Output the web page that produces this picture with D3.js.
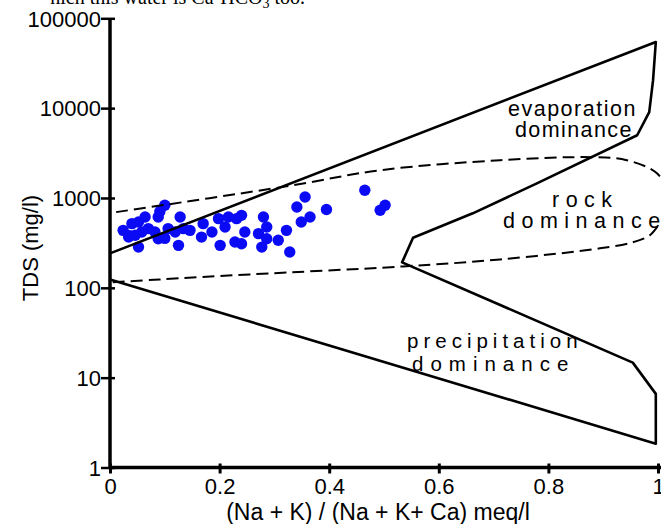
<!DOCTYPE html>
<html>
<head>
<meta charset="utf-8">
<script src="https://cdn.jsdelivr.net/npm/d3@7"></script>
<style>
  html, body { margin: 0; padding: 0; background: #fff; }
  svg { display: block; }
  text { font-family: "Liberation Sans", Arial, sans-serif; fill: #000; }
</style>
</head>
<body>
<svg id="chart" width="661" height="524"></svg>
<script>
// ---- data ----
const xTicks = [0, 0.2, 0.4, 0.6, 0.8, 1];
const xTickLabels = ["0", "0.2", "0.4", "0.6", "0.8", "1"];
const yTicks = [1, 10, 100, 1000, 10000, 100000];
const yTickLabels = ["1", "10", "100", "1000", "10000", "100000"];

// sample points: (Na+K)/(Na+K+Ca) and TDS (mg/l)
const ratio = [0.100, 0.088, 0.064, 0.128, 0.024, 0.040, 0.052, 0.046, 0.034, 0.058,
               0.070, 0.082, 0.088, 0.052, 0.106, 0.119, 0.134, 0.146, 0.125, 0.100,
               0.091, 0.036,
               0.170, 0.167, 0.186, 0.201, 0.198, 0.210, 0.216, 0.240, 0.231, 0.228,
               0.240, 0.246, 0.280, 0.286, 0.271, 0.286, 0.277, 0.307, 0.322, 0.328,
               0.356, 0.341, 0.395, 0.365, 0.349, 0.465, 0.493, 0.502];
const tds   = [829, 614, 614, 614, 436, 518, 540, 384, 367, 418,
               456, 418, 352, 284, 456, 418, 456, 436, 297, 355,
               707, 380,
               518, 367, 418, 297, 589, 475, 614, 641, 589, 323,
               310, 418, 614, 475, 401, 352, 284, 338, 436, 250,
               1026, 794, 743, 614, 540, 1218, 729, 829];

// Gibbs boundary (solid)
const boundaryX = [0, 0.996, 0.991, 0.984, 0.962, 0.779, 0.662, 0.553, 0.533, 0.954, 0.996, 0.996, 0];
const boundaryY = [242, 54500, 20500, 9020, 4990, 1452, 675, 361, 192, 14.7, 6.6, 1.84, 124];

// rock dominance envelope (dashed)
const envelopeX = [0.005, 0.091, 0.255, 0.535, 0.712, 0.894, 0.954, 0.985, 1.005, 1.018, 1.026, 1.018, 0.998, 0.943, 0.881, 0.712, 0.493, 0.328, 0];
const envelopeY = [115, 124, 141, 173, 207, 275, 321, 384, 522, 564, 729, 1156, 1885, 2632, 2842, 2632, 2037, 1368, 680];

// ---- chart ----
const svg = d3.select("#chart");
const x = d3.scaleLinear().domain([0, 1]).range([110, 658]);
const y = d3.scaleLog().domain([1, 100000]).range([467.5, 18.3]);

// cut-off text from page above
svg.append("text")
  .attr("x", 305).attr("y", 3.5)
  .attr("text-anchor", "end")
  .style("font-family", "'Liberation Serif', 'Times New Roman', serif")
  .style("font-size", "20px")
  .html("hich this water is Ca-HCO<tspan dy='4' font-size='14'>3</tspan><tspan dy='-4'> too.</tspan>");

// points
svg.append("g").selectAll("circle")
  .data(ratio.map((r, i) => [r, tds[i]]))
  .join("circle")
  .attr("cx", d => x(d[0]))
  .attr("cy", d => y(d[1]))
  .attr("r", 5.7)
  .attr("fill", "#0a0af5");

// boundary
svg.append("path")
  .datum(boundaryX.map((v, i) => [v, boundaryY[i]]))
  .attr("d", d3.line().x(d => x(d[0])).y(d => y(d[1])))
  .attr("fill", "none").attr("stroke", "#000").attr("stroke-width", 2.6)
  .attr("stroke-linejoin", "round");

svg.append("path")
  .datum(envelopeX.map((v, i) => [v, envelopeY[i]]))
  .attr("d", d3.line().x(d => x(d[0])).y(d => y(d[1])).curve(d3.curveCatmullRom.alpha(0.5)))
  .attr("fill", "none").attr("stroke", "#000").attr("stroke-width", 2)
  .attr("stroke-dasharray", "12,6");

// axes
const gx = svg.append("g").attr("transform", `translate(0,${y(1)})`)
  .call(d3.axisBottom(x).tickValues(xTicks).tickFormat((d, i) => xTickLabels[i]).tickSize(6).tickPadding(0));
gx.select(".domain").attr("d", `M${x(0)},0H661`).attr("stroke", "#000").attr("stroke-width", 3.5);
gx.selectAll(".tick line").attr("y1", -4).attr("y2", 6).attr("stroke-width", 3);
gx.selectAll(".tick text").attr("y", 26).attr("dy", 0)
  .style("font-size", "22px").style("font-family", "'Liberation Sans', Arial, sans-serif");

const gy = svg.append("g").attr("transform", `translate(${x(0)},0)`)
  .call(d3.axisLeft(y).tickValues(yTicks).tickFormat((d, i) => yTickLabels[i]).tickSize(8).tickPadding(2));
gy.select(".domain").attr("d", `M0,${y(1) + 1.5}V${y(100000)}`).attr("stroke", "#000").attr("stroke-width", 3.5);
gy.selectAll(".tick line").attr("x1", 5).attr("x2", -9).attr("stroke-width", 2.5);
gy.selectAll(".tick text").attr("x", -9).attr("dy", "0.35em")
  .style("font-size", "22px").style("font-family", "'Liberation Sans', Arial, sans-serif");

// axis titles
svg.append("text")
  .attr("x", 378).attr("y", 520)
  .attr("text-anchor", "middle")
  .style("font-size", "23px")
  .text("(Na + K) / (Na + K+ Ca) meq/l");

svg.append("text")
  .attr("transform", "translate(38,248) rotate(-90)")
  .attr("text-anchor", "middle")
  .style("font-size", "22px")
  .text("TDS (mg/l)");

// region labels
function label(txt, lx, ly, fs, ls) {
  svg.append("text").attr("x", lx).attr("y", ly)
    .style("font-size", fs + "px").style("letter-spacing", ls + "px").text(txt);
}
label("evaporation", 508, 116, 21.5, 1.5);
label("dominance", 515, 137, 21.5, 1.4);
label("rock", 552, 207, 21.5, 6.5);
label("dominance", 503, 228, 21.5, 6.5);
label("precipitation", 407, 348, 20.5, 5);
label("dominance", 412, 371, 20.5, 7);
</script>
</body>
</html>
